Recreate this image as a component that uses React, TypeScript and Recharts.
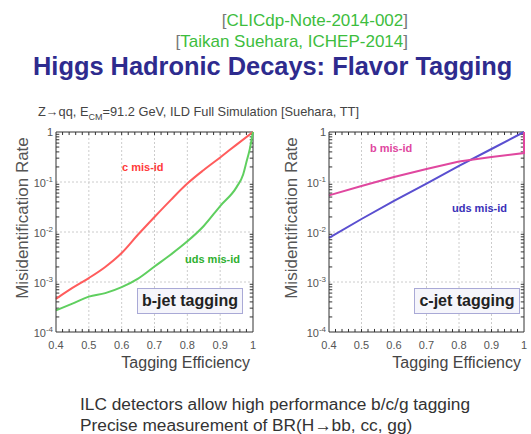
import { LineChart, Line, XAxis, YAxis, ReferenceLine } from "recharts";

// b-jet tagging panel
const bTagEffC = [0.4, 0.45, 0.5, 0.55, 0.6, 0.65, 0.7, 0.75, 0.8, 0.85, 0.9, 0.95, 1.0];
const cMisIdB = [4.6e-4, 7.6e-4, 1.2e-3, 2.0e-3, 3.8e-3, 8.9e-3, 2.0e-2, 4.4e-2, 9.3e-2, 1.74e-1, 3.1e-1, 5.6e-1, 1];
const bTagEffUds = [0.4, 0.45, 0.5, 0.55, 0.6, 0.65, 0.7, 0.75, 0.8, 0.85, 0.9, 0.95, 0.97, 0.98, 0.99, 1.0];
const udsMisIdB = [2.7e-4, 3.7e-4, 5.1e-4, 6.0e-4, 7.9e-4, 1.17e-3, 2.04e-3, 3.55e-3, 6.5e-3, 1.32e-2, 3.3e-2, 7.9e-2, 1.41e-1, 2.5e-1, 4.5e-1, 1];

// c-jet tagging panel
const cTagEffUds = [0.4, 0.5, 0.6, 0.7, 0.8, 0.9, 1.0];
const udsMisIdC = [7.6e-3, 1.82e-2, 4.17e-2, 9.3e-2, 2.09e-1, 4.57e-1, 1];
const cTagEffB = [0.4, 0.5, 0.6, 0.7, 0.8, 0.9, 1.0, 1.0];
const bMisIdC = [5.4e-2, 8.3e-2, 1.26e-1, 1.82e-1, 2.57e-1, 3.16e-1, 3.8e-1, 1];

const effTicks = [0.4, 0.5, 0.6, 0.7, 0.8, 0.9, 1];
const rateTicks = [1e-4, 1e-3, 1e-2, 1e-1, 1];

// frame tick marks (MATLAB style, pointing inward)
const minorEff: number[] = [];
for (let i = 1; i < 30; i++) minorEff.push(+(0.4 + i * 0.02).toFixed(2));
const minorRate: number[] = [];
for (let e = -4; e < 0; e++) for (let k = 2; k < 10; k++) minorRate.push(k * Math.pow(10, e));

const toPoints = (xs: number[], ys: number[]) => xs.map((x, i) => ({ x, y: ys[i] }));

const FONT = "'Liberation Sans', Arial, sans-serif";
const FRAME = "#333";
const GRID = "#cccccc";

const LogTick = (props: any) => {
  const { x, y, payload } = props;
  const e = Math.round(Math.log10(payload.value));
  if (e === 0) {
    return (
      <text x={x} y={y} dy={4} textAnchor="end" fontSize={11} fill="#555">1</text>
    );
  }
  return (
    <text x={x} y={y} dy={5} textAnchor="end" fontSize={11} fill="#555">
      10<tspan dy={-5} fontSize={8}>{e}</tspan>
    </text>
  );
};

type Series = { points: { x: number; y: number }[]; color: string; curve: "monotone" | "linear" };

function Panel({ width, left, right, series, frameTop = 1 }: {
  width: number; left: number; right: number; series: Series[]; frameTop?: number;
}) {
  return (
    <LineChart width={width} height={260} margin={{ top: 12, right, bottom: 0, left }} style={{ fontFamily: FONT }}>
      <XAxis
        dataKey="x" type="number" domain={[0.4, 1]} ticks={effTicks}
        height={48} tickLine={false} tickSize={0} tickMargin={9}
        axisLine={{ stroke: FRAME }} tick={{ fontSize: 11, fill: "#555" }}
      />
      <YAxis
        scale="log" type="number" domain={[1e-4, 1]} ticks={rateTicks}
        width={40} tickLine={false} tickSize={0} tickMargin={3}
        axisLine={{ stroke: FRAME }} tick={<LogTick />}
      />
      {effTicks.slice(1, -1).map((v) => (
        <ReferenceLine key={"gx" + v} x={v} stroke={GRID} strokeDasharray="2 2" />
      ))}
      {rateTicks.slice(1, -1).map((v) => (
        <ReferenceLine key={"gy" + v} y={v} stroke={GRID} strokeDasharray="2 2" />
      ))}
      {minorEff.map((v) => (
        <ReferenceLine key={"tb" + v} segment={[{ x: v, y: 1e-4 }, { x: v, y: 1.15e-4 }]} stroke={FRAME} />
      ))}
      {minorEff.map((v) => (
        <ReferenceLine key={"tt" + v} segment={[{ x: v, y: 1 }, { x: v, y: 0.87 }]} stroke={FRAME} />
      ))}
      {minorRate.map((v) => (
        <ReferenceLine key={"tl" + v} segment={[{ x: 0.4, y: v }, { x: 0.41, y: v }]} stroke={FRAME} />
      ))}
      {minorRate.map((v) => (
        <ReferenceLine key={"tr" + v} segment={[{ x: 0.99, y: v }, { x: 1, y: v }]} stroke={FRAME} />
      ))}
      <ReferenceLine y={1} stroke={FRAME} />
      <ReferenceLine segment={[{ x: 1, y: 1e-4 }, { x: 1, y: frameTop }]} stroke={FRAME} />
      {series.map((s, i) => (
        <Line
          key={i} data={s.points} dataKey="y" type={s.curve} stroke={s.color}
          strokeWidth={2} dot={false} isAnimationActive={false}
        />
      ))}
    </LineChart>
  );
}

const abs = (style: React.CSSProperties): React.CSSProperties => ({
  position: "absolute", whiteSpace: "nowrap", lineHeight: 1, ...style,
});

function YLabel({ cx }: { cx: number }) {
  return (
    <div style={abs({ left: cx, top: 218, fontSize: 17, color: "#555", transform: "translate(-50%, -50%) rotate(-90deg)" })}>
      Misidentification Rate
    </div>
  );
}

function TagBox({ left, text }: { left: number; text: string }) {
  return (
    <div
      style={abs({
        left, top: 288, width: 104, height: 24, border: "1px solid #a9a9d6", background: "#f5f5fb",
        fontSize: 16, fontWeight: "bold", color: "#222", display: "flex", alignItems: "center", justifyContent: "center",
      })}
    >
      {text}
    </div>
  );
}

export default function App() {
  return (
    <div style={{ position: "relative", width: 531, height: 434, fontFamily: FONT, background: "#fff", overflow: "hidden" }}>
      <style>{"body{margin:0}"}</style>

      <div style={abs({ right: 123, top: 12, fontSize: 17, color: "#3dbd3d" })}>
        <span style={{ color: "#777" }}>[</span>CLICdp-Note-2014-002<span style={{ color: "#777" }}>]</span>
      </div>
      <div style={abs({ right: 123, top: 33, fontSize: 17, color: "#3dbd3d" })}>
        <span style={{ color: "#777" }}>[</span>Taikan Suehara, ICHEP-2014<span style={{ color: "#777" }}>]</span>
      </div>
      <div style={abs({ left: 33, top: 54, fontSize: 25.4, fontWeight: "bold", color: "#2e2b8e" })}>
        Higgs Hadronic Decays: Flavor Tagging
      </div>
      <div style={abs({ left: 38, top: 106, fontSize: 12.8, color: "#444" })}>
        Z→qq, E<sub style={{ fontSize: 9 }}>CM</sub>=91.2 GeV, ILD Full Simulation [Suehara, TT]
      </div>

      <div style={{ position: "absolute", left: 0, top: 120 }}>
        <Panel
          width={265} left={16} right={12}
          series={[
            { points: toPoints(bTagEffC, cMisIdB), color: "#ff5c5c", curve: "monotone" },
            { points: toPoints(bTagEffUds, udsMisIdB), color: "#5fcf5f", curve: "monotone" },
          ]}
        />
      </div>
      <div style={{ position: "absolute", left: 270, top: 120 }}>
        <Panel
          width={261} left={19} right={7} frameTop={bMisIdC[bMisIdC.length - 2]}
          series={[
            { points: toPoints(cTagEffUds, udsMisIdC), color: "#5a4fd0", curve: "linear" },
            { points: toPoints(cTagEffB, bMisIdC), color: "#e0479f", curve: "linear" },
          ]}
        />
      </div>

      <YLabel cx={22} />
      <YLabel cx={291} />

      <div style={abs({ left: 122, top: 162, fontSize: 11, fontWeight: "bold", color: "#ff3b3b" })}>c mis-id</div>
      <div style={abs({ left: 185, top: 254, fontSize: 11, fontWeight: "bold", color: "#2fb02f" })}>uds mis-id</div>
      <div style={abs({ left: 370, top: 143, fontSize: 11, fontWeight: "bold", color: "#e0479f" })}>b mis-id</div>
      <div style={abs({ left: 452, top: 203, fontSize: 11, fontWeight: "bold", color: "#3a30b8" })}>uds mis-id</div>

      <TagBox left={137} text="b-jet tagging" />
      <TagBox left={414} text="c-jet tagging" />

      <div style={abs({ right: 531 - 250, top: 355, fontSize: 16, color: "#444" })}>Tagging Efficiency</div>
      <div style={abs({ right: 531 - 521, top: 355, fontSize: 16, color: "#444" })}>Tagging Efficiency</div>

      <div style={abs({ left: 80, top: 396, fontSize: 17.3, color: "#333" })}>
        ILC detectors allow high performance b/c/g tagging
      </div>
      <div style={abs({ left: 80, top: 417, fontSize: 17.3, color: "#333" })}>
        Precise measurement of BR(H→bb, cc, gg)
      </div>
    </div>
  );
}
